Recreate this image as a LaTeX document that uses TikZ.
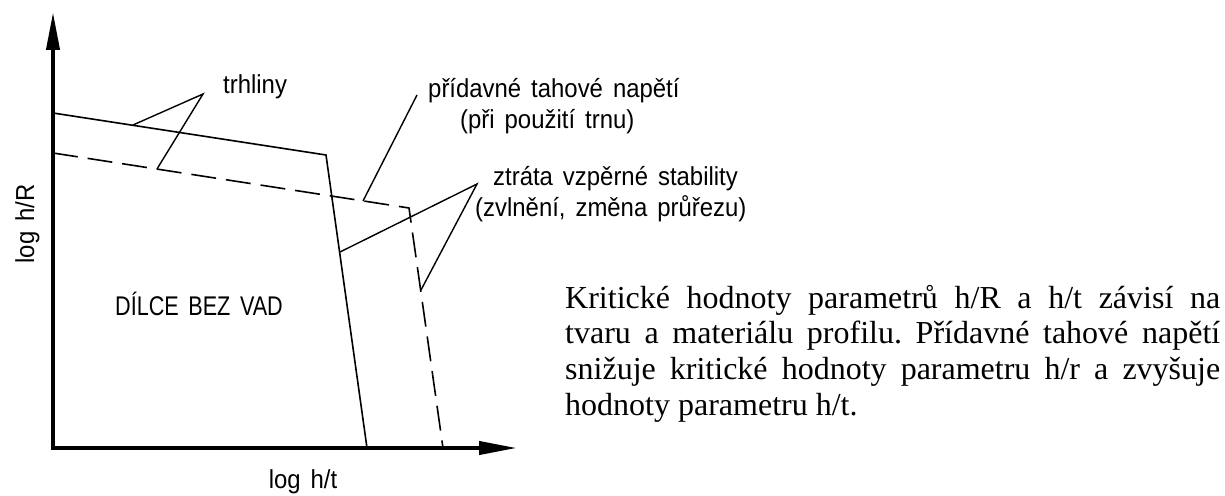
\documentclass[tikz,border=0pt]{standalone}
\usepackage{fontspec}
\setmainfont{Liberation Serif}
\newfontfamily\cadfont[FakeStretch=0.92,WordSpace=1.5]{Liberation Sans}
\newfontfamily\cadcaps[FakeStretch=0.8,WordSpace=1.6]{Liberation Sans}
\usetikzlibrary{arrows.meta}
\tikzset{
  axis/.style={line width=4pt,line join=miter,{Triangle[length=38pt,width=13pt]}-{Triangle[length=38pt,width=13pt]}},
  limit/.style={line width=1.6pt,line join=miter},
  leader/.style={line width=1.4pt},
  cadlabel/.style={anchor=base west,inner sep=0pt,font=\cadfont\fontsize{26}{30}\selectfont}
}
\begin{document}
\begin{tikzpicture}[x=1pt,y=-1pt]
\useasboundingbox (0,0) rectangle (1225,495);
\coordinate (O) at (53,448);\coordinate (Ytop) at (53,12);\coordinate (Xend) at (517,448);
\coordinate (S1) at (53,113);\coordinate (S2) at (326,155);\coordinate (S3) at (367,448);
\coordinate (D1) at (53,153);\coordinate (D2) at (409,208);\coordinate (D3) at (443,448);
% axes
\draw[axis] (Ytop)--(O)--(Xend);
% limit lines
\draw[limit] (S1)--(S2)--(S3);
\draw[limit,dash pattern=on 25pt off 10pt] (D1)--(D2)--(D3);
% leaders
\coordinate (trA) at (133,125);\coordinate (trB) at (203,94);\coordinate (trC) at (157,169);
\draw[leader] (trA)--(trB)--(trC);
\coordinate (pdA) at (417,95);\coordinate (pdB) at (363,201);
\draw[leader] (pdA)--(pdB);
\coordinate (ztA) at (340,252);\coordinate (ztB) at (477,184);\coordinate (ztC) at (421,290);
\draw[leader] (ztA)--(ztB)--(ztC);
% labels
\node[cadlabel] (trhliny) at (223,93) {trhliny};
\node[cadlabel] (napeti) at (428,97) {přídavné tahové napětí};
\node[cadlabel] (trn) at (460,128) {(při použití trnu)};
\node[cadlabel] (ztrata) at (493,185) {ztráta vzpěrné stability};
\node[cadlabel] (zvlneni) at (475,216) {(zvlnění, změna průřezu)};
\node[anchor=base west,inner sep=0pt,font=\cadcaps\fontsize{27}{32}\selectfont] (bezvad) at (115,315) {DÍLCE BEZ VAD};
\node[cadlabel,anchor=base] (xlab) at (303,488) {log h/t};
\node[cadlabel,anchor=base,rotate=90] (ylab) at (34,224) {log h/R};
\node[anchor=base west,inner sep=0pt] (popis) at (565,308) {\parbox[t]{655pt}{\fontsize{32}{35.7}\selectfont
  \tolerance=10000\hyphenpenalty=10000\parindent=0pt\frenchspacing
  Kritické hodnoty parametrů h/R a h/t závisí na\linebreak
  tvaru a materiálu profilu. Přídavné tahové napětí\linebreak
  snižuje kritické hodnoty parametru h/r a zvyšuje\linebreak
  hodnoty parametru h/t.}};
\end{tikzpicture}
\end{document}
